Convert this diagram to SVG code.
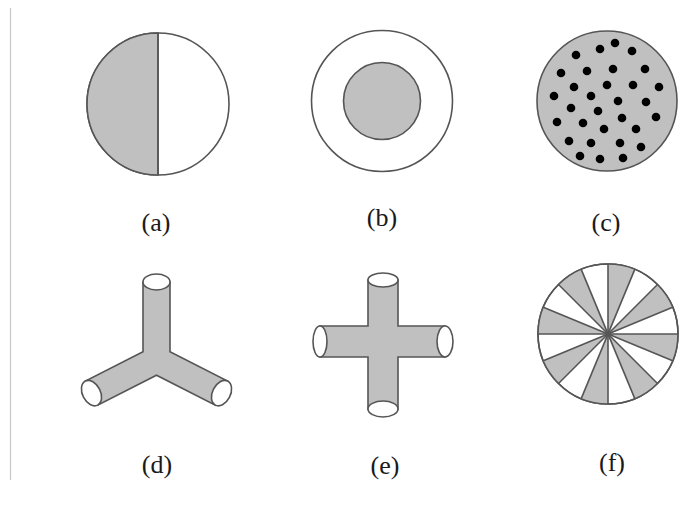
<svg xmlns="http://www.w3.org/2000/svg" width="696" height="508" viewBox="0 0 696 508">
<style>
.g{fill:#c0c0c0;stroke:#555;stroke-width:1.6}
.w{fill:#fff;stroke:#555;stroke-width:1.6}
.ln{stroke:#555;stroke-width:1.6;fill:none}
.d{fill:#000}
.lbl{font-family:"Liberation Serif","Times New Roman",serif;font-size:26px;fill:#1a1a1a;text-anchor:middle}
</style>
<rect width="696" height="508" fill="#fff"/>
<line x1="10.5" y1="8" x2="10.5" y2="480" stroke="#c8c8c8" stroke-width="1.2"/>
<g id="fig-a">
<circle class="w" cx="158" cy="104" r="71"/>
<path class="g" d="M158,33 A71,71 0 0 0 158,175 Z"/>
<line class="ln" x1="158" y1="33" x2="158" y2="175"/>
<text class="lbl" x="156" y="231">(a)</text>
</g>
<g id="fig-b">
<circle class="w" cx="382" cy="101" r="70.5"/>
<circle class="g" cx="382" cy="101" r="38.5"/>
<text class="lbl" x="382" y="226">(b)</text>
</g>
<g id="fig-c">
<circle class="g" cx="607" cy="101" r="70"/>
<g class="d">
<circle cx="576" cy="55" r="4.3"/><circle cx="600" cy="49" r="4.3"/><circle cx="615" cy="43" r="4.3"/><circle cx="632" cy="51" r="4.3"/>
<circle cx="561" cy="73" r="4.3"/><circle cx="587" cy="71" r="4.3"/><circle cx="613" cy="69" r="4.3"/><circle cx="645" cy="69" r="4.3"/>
<circle cx="574" cy="87" r="4.3"/><circle cx="607" cy="85" r="4.3"/><circle cx="633" cy="85" r="4.3"/><circle cx="659" cy="87" r="4.3"/>
<circle cx="554" cy="96" r="4.3"/><circle cx="591" cy="96" r="4.3"/><circle cx="618" cy="101" r="4.3"/><circle cx="646" cy="102" r="4.3"/>
<circle cx="571" cy="108" r="4.3"/><circle cx="598" cy="111" r="4.3"/><circle cx="557" cy="122" r="4.3"/><circle cx="583" cy="123" r="4.3"/>
<circle cx="622" cy="118" r="4.3"/><circle cx="656" cy="117" r="4.3"/><circle cx="604" cy="129" r="4.3"/><circle cx="636" cy="129" r="4.3"/>
<circle cx="569" cy="141" r="4.3"/><circle cx="591" cy="143" r="4.3"/><circle cx="620" cy="143" r="4.3"/><circle cx="641" cy="147" r="4.3"/>
<circle cx="580" cy="156" r="4.3"/><circle cx="600" cy="159" r="4.3"/><circle cx="623" cy="158" r="4.3"/>
</g>
<text class="lbl" x="606" y="231">(c)</text>
</g>
<g id="fig-d">
<path class="g" d="M143,282 L143,351.7 L85.4,381.1 L97.6,405.1 L156.5,375.2 L215.4,405.1 L227.6,381.1 L170,351.7 L170,282 Z"/>
<ellipse class="w" cx="156.5" cy="282" rx="13.5" ry="8"/>
<ellipse class="w" transform="translate(91.5,393.1) rotate(153)" rx="9" ry="13.5"/>
<ellipse class="w" transform="translate(221.5,393.1) rotate(27)" rx="9" ry="13.5"/>
<text class="lbl" x="157" y="473">(d)</text>
</g>
<g id="fig-e">
<path class="g" d="M368,280 L368,326 L320,326 L320,357 L368,357 L368,409 L398,409 L398,357 L445,357 L445,326 L398,326 L398,280 Z"/>
<ellipse class="w" cx="383" cy="280" rx="15" ry="7"/>
<ellipse class="w" cx="383" cy="409" rx="15" ry="8"/>
<ellipse class="w" cx="320" cy="341.5" rx="7" ry="15.5"/>
<ellipse class="w" cx="445" cy="341.5" rx="8" ry="15.5"/>
<text class="lbl" x="385" y="474">(e)</text>
</g>
<g id="fig-f">
<circle class="w" cx="608" cy="334" r="70"/>
<g class="g" style="stroke:none">
<path d="M608,334 L608,264 A70,70 0 0 1 634.79,269.33 Z"/>
<path d="M608,334 L657.5,284.5 A70,70 0 0 1 672.67,307.21 Z"/>
<path d="M608,334 L678,334 A70,70 0 0 1 672.67,360.79 Z"/>
<path d="M608,334 L657.5,383.5 A70,70 0 0 1 634.79,398.67 Z"/>
<path d="M608,334 L608,404 A70,70 0 0 1 581.21,398.67 Z"/>
<path d="M608,334 L558.5,383.5 A70,70 0 0 1 543.33,360.79 Z"/>
<path d="M608,334 L538,334 A70,70 0 0 1 543.33,307.21 Z"/>
<path d="M608,334 L558.5,284.5 A70,70 0 0 1 581.21,269.33 Z"/>
</g>
<g class="ln">
<line x1="608" y1="264" x2="608" y2="404"/>
<line x1="634.79" y1="269.33" x2="581.21" y2="398.67"/>
<line x1="657.5" y1="284.5" x2="558.5" y2="383.5"/>
<line x1="672.67" y1="307.21" x2="543.33" y2="360.79"/>
<line x1="678" y1="334" x2="538" y2="334"/>
<line x1="672.67" y1="360.79" x2="543.33" y2="307.21"/>
<line x1="657.5" y1="383.5" x2="558.5" y2="284.5"/>
<line x1="634.79" y1="398.67" x2="581.21" y2="269.33"/>
</g>
<circle class="ln" cx="608" cy="334" r="70"/>
<text class="lbl" x="612" y="471">(f)</text>
</g>
</svg>
